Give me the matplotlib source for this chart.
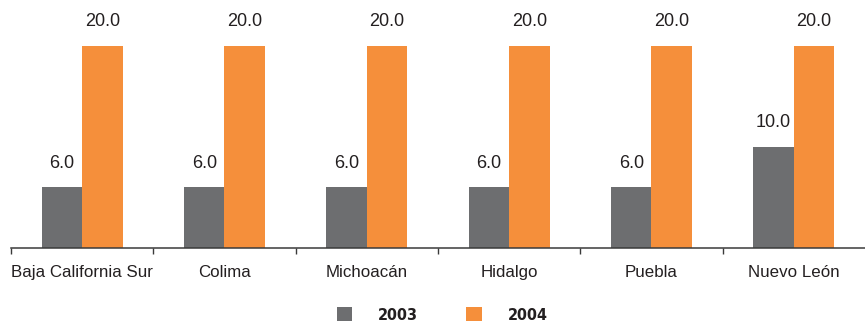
import numpy as np
import matplotlib.pyplot as plt

estados = ['Baja California Sur', 'Colima', 'Michoacán', 'Hidalgo', 'Puebla', 'Nuevo León']
v2003 = [6.0, 6.0, 6.0, 6.0, 6.0, 10.0]
v2004 = [20.0, 20.0, 20.0, 20.0, 20.0, 20.0]

gris = '#6d6e70'
naranja = '#f58f3b'
texto = '#231f20'

plt.rcParams['font.family'] = ['Liberation Sans', 'DejaVu Sans']

fig = plt.figure(figsize=(8.65, 3.25), dpi=100)
ax = fig.add_axes([11/865, 1 - 248/325, 854/865, 248/325])

x = np.arange(len(estados))
w = 0.285
b1 = ax.bar(x - w/2, v2003, w, color=gris, label='2003')
b2 = ax.bar(x + w/2, v2004, w, color=naranja, label='2004')

for barras, vals in ((b1, v2003), (b2, v2004)):
    for r, v in zip(barras, vals):
        ax.annotate('%.1f' % v, (r.get_x() + r.get_width()/2, v),
                    xytext=(0, 17.5), textcoords='offset points',
                    ha='center', va='center', fontsize=13, color=texto)

ax.set_xlim(-0.5, len(estados) - 0.5)
ax.set_ylim(0, 24.55)
ax.set_yticks([])
for s in ('top', 'right', 'left'):
    ax.spines[s].set_visible(False)
ax.spines['bottom'].set_color('#3a3a3a')
ax.spines['bottom'].set_linewidth(1.1)

ax.set_xticks(x)
ax.set_xticklabels(estados, fontsize=12.2, color=texto)
ax.tick_params(axis='x', which='major', length=0, pad=12)
ax.set_xticks(np.arange(len(estados)) - 0.5, minor=True)
ax.tick_params(axis='x', which='minor', length=4, width=1, color='#3a3a3a')

# leyenda en letra condensada y negrita
ley = fig.legend(handles=[b1, b2], loc='center', bbox_to_anchor=(442/865, 1 - 315/325),
                 ncol=2, frameon=False, handlelength=1.0, handleheight=1.0,
                 columnspacing=3.0, handletextpad=1.6, borderpad=0,
                 prop={'family': 'DejaVu Sans', 'stretch': 'condensed',
                       'weight': 'bold', 'size': 11.5})
for t in ley.get_texts():
    t.set_color(texto)

fig.savefig('out.png', dpi=100)
